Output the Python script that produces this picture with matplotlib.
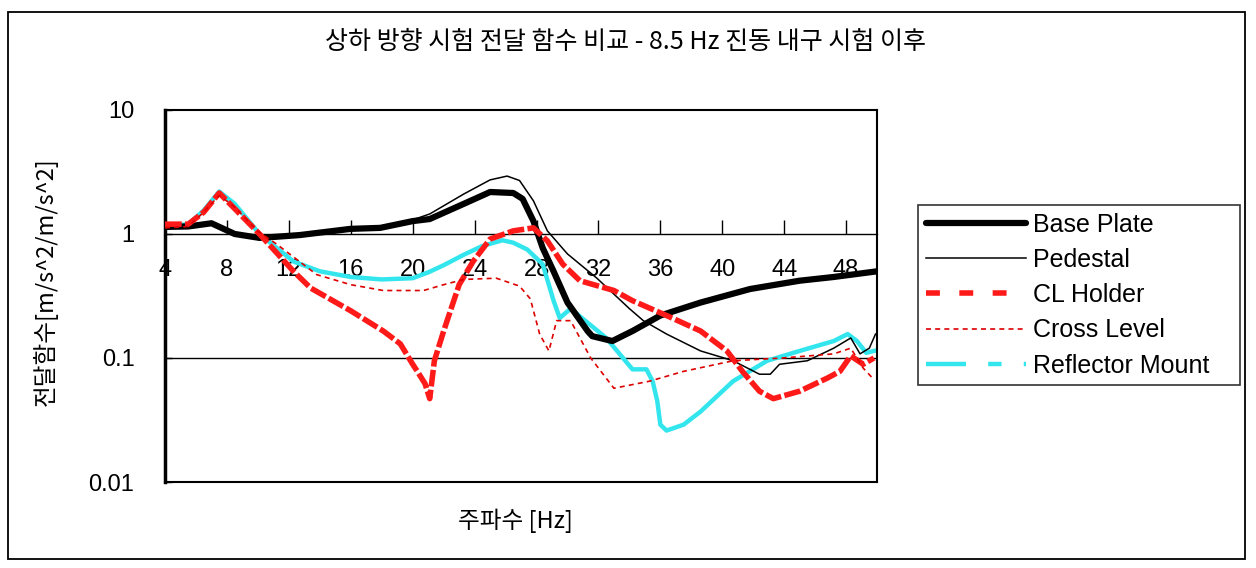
import numpy as np
import matplotlib
matplotlib.use('Agg')
import matplotlib.pyplot as plt
from matplotlib.lines import Line2D
from matplotlib.patches import Rectangle

plt.rcParams['font.family'] = ['Noto Sans CJK KR', 'DejaVu Sans']

title = '상하 방향 시험 전달 함수 비교 - 8.5 Hz 진동 내구 시험 이후'
xlabel = '주파수 [Hz]'
ylabel = '전달함수[m/s^2/m/s^2]'
xticks = [4, 8, 12, 16, 20, 24, 28, 32, 36, 40, 44, 48]
yticks = [0.01, 0.1, 1, 10]
ytick_labels = ['0.01', '0.1', '1', '10']

# Base Plate
bp_f = [4, 5.5, 7.0, 8.5, 10.1, 11.2, 12.7, 16.0, 17.9, 20.0, 21.1, 23.3, 25.0, 26.5, 27.1,
        27.8, 28.4, 29.1, 30.0, 31.3, 31.6, 32.9, 34.2, 36.0, 38.6, 41.8, 45.0, 47.2, 50.0]
bp_v = [1.14, 1.15, 1.22, 1.0, 0.93, 0.95, 0.98, 1.10, 1.12, 1.27, 1.32, 1.75, 2.18, 2.14, 1.92,
        1.27, 0.77, 0.50, 0.28, 0.165, 0.15, 0.137, 0.165, 0.22, 0.28, 0.36, 0.42, 0.45, 0.50]

# Pedestal
pd_f = [4, 5.5, 7.0, 8.5, 10.1, 11.2, 12.7, 16.0, 18.0, 20.0, 21.1, 23.3, 25.0, 26.1, 26.9,
        27.8, 28.7, 30.0, 31.9, 34.0, 34.9, 36.4, 38.6, 40.7, 42.4, 43.1, 43.7, 45.5, 47.2,
        48.3, 48.9, 49.5, 49.9]
pd_v = [1.12, 1.14, 1.2, 1.0, 0.94, 0.96, 0.99, 1.10, 1.14, 1.3, 1.45, 2.1, 2.73, 2.93, 2.7,
        1.85, 1.06, 0.69, 0.44, 0.25, 0.2, 0.156, 0.114, 0.095, 0.074, 0.074, 0.089, 0.095, 0.12,
        0.145, 0.108, 0.12, 0.156]

# CL Holder
cl_f = [4, 5.5, 6.5, 7.5, 8.5, 10.1, 12.3, 13.4, 16.0, 18.1, 19.2, 20.0, 20.3, 20.8, 21.1,
        21.4, 22.0, 23.0, 23.9, 25.0, 26.5, 27.8, 28.7, 29.7, 30.8, 33.0, 34.2, 36.4, 38.6,
        40.3, 41.3, 42.4, 43.3, 45.0, 46.8, 47.6, 48.3, 49.1, 49.8]
cl_v = [1.2, 1.2, 1.5, 2.14, 1.6, 1.0, 0.50, 0.367, 0.24, 0.165, 0.13, 0.089, 0.078, 0.062, 0.047,
        0.095, 0.165, 0.39, 0.6, 0.91, 1.06, 1.12, 0.88, 0.57, 0.42, 0.35, 0.29, 0.22, 0.165,
        0.114, 0.078, 0.054, 0.047, 0.054, 0.069, 0.078, 0.104, 0.089, 0.1]

# Cross Level
cr_f = [4, 5.5, 6.5, 7.5, 8.5, 10.0, 11.2, 13.8, 16.0, 18.1, 20.7, 22.0, 23.3, 25.4, 26.9,
        27.6, 28.2, 28.8, 29.3, 30.2, 31.5, 33.0, 35.3, 37.5, 40.7, 43.9, 47.2, 48.3, 49.1, 49.7]
cr_v = [1.12, 1.15, 1.5, 2.05, 1.65, 1.05, 0.83, 0.47, 0.39, 0.35, 0.35, 0.39, 0.43, 0.44, 0.38,
        0.30, 0.156, 0.114, 0.2, 0.2, 0.1, 0.057, 0.065, 0.078, 0.095, 0.1, 0.108, 0.12, 0.083, 0.069]

# Reflector Mount
rm_f = [4, 5.5, 6.5, 7.5, 8.5, 10.1, 12.3, 14.0, 16.0, 18.0, 20.0, 21.0, 22.0, 23.3, 24.5,
        25.8, 26.5, 27.4, 28.4, 29.1, 29.5, 30.2, 32.5, 34.2, 35.1, 35.5, 35.8, 36.0, 36.4,
        37.5, 38.6, 40.7, 42.9, 45.0, 47.2, 48.1, 48.7, 49.3, 49.8]
rm_v = [1.15, 1.2, 1.55, 2.2, 1.75, 1.0, 0.6, 0.5, 0.45, 0.43, 0.44, 0.49, 0.56, 0.68, 0.8,
        0.89, 0.85, 0.75, 0.57, 0.29, 0.21, 0.25, 0.145, 0.081, 0.081, 0.065, 0.045, 0.029, 0.026,
        0.029, 0.037, 0.065, 0.095, 0.114, 0.137, 0.156, 0.137, 0.11, 0.114]

fig = plt.figure(figsize=(12.56, 5.68), dpi=100)
fig.patches.append(Rectangle((0.0064, 0.0158), 0.985, 0.963, transform=fig.transFigure,
                             fill=False, edgecolor='black', linewidth=1.3))
ax = fig.add_axes([0.1314, 0.1514, 0.5669, 0.655])

ax.plot(bp_f, bp_v, color='black', linewidth=4.5, solid_capstyle='round', zorder=3)
ax.plot(pd_f, pd_v, color='black', linewidth=1.1, zorder=3)
ax.plot(cl_f, cl_v, color='#ff1a1a', linewidth=4, dashes=(3, 0.6), zorder=4)
ax.plot(cr_f, cr_v, color='#dd0000', linewidth=1.2, dashes=(3, 2.5), zorder=4)
ax.plot(rm_f, rm_v, color='#33e6ee', linewidth=3.2, zorder=2)

ax.set_yscale('log')
ax.set_xlim(4, 50)
ax.set_ylim(0.01, 10)
ax.set_yticks(yticks)
ax.set_yticklabels(ytick_labels)
ax.yaxis.set_minor_locator(matplotlib.ticker.NullLocator())
ax.set_xticks(xticks)
ax.set_xticklabels([str(t) for t in xticks])

ax.axhline(0.1, color='black', linewidth=1.0, zorder=1)
ax.spines['bottom'].set_position(('data', 1))
ax.spines['bottom'].set_linewidth(1.0)
ax.spines['left'].set_linewidth(2.5)
ax.spines['top'].set_linewidth(1.5)
ax.spines['right'].set_linewidth(1.5)
ax.plot([0, 1], [0, 0], transform=ax.transAxes, color='black', linewidth=1.5, clip_on=False)

ax.tick_params(axis='x', direction='in', length=10, width=1, pad=18, labelsize=17)
ax.tick_params(axis='y', direction='in', length=5, width=1, pad=22, labelsize=17)
for lab in ax.get_xticklabels() + ax.get_yticklabels():
    lab.set_family(['Liberation Sans', 'DejaVu Sans'])

fig.text(0.498, 0.926, title, ha='center', va='center', fontsize=18)
fig.text(0.41, 0.083, xlabel, ha='center', va='center', fontsize=17)
fig.text(0.036, 0.505, ylabel, ha='center', va='center', fontsize=17, rotation=90)

handles = [
    Line2D([], [], color='black', linewidth=4.5, solid_capstyle='round'),
    Line2D([], [], color='black', linewidth=1.1),
    Line2D([], [], color='#ff1a1a', linewidth=4, dashes=(2.5, 3.5)),
    Line2D([], [], color='#dd0000', linewidth=1.2, dashes=(3, 2.5)),
    Line2D([], [], color='#33e6ee', linewidth=3.2, dashes=(9, 5, 3, 5)),
]
labels = ['Base Plate', 'Pedestal', 'CL Holder', 'Cross Level', 'Reflector Mount']
leg = fig.legend(handles, labels, loc='upper left',
                 bbox_to_anchor=(0.731, 0.319, 0.256, 0.32), mode='expand',
                 fontsize=18, frameon=True, fancybox=False, edgecolor='black',
                 handlelength=4.0, handletextpad=0.3, labelspacing=0.45, borderpad=0.3,
                 borderaxespad=0)
leg.get_frame().set_linewidth(1.2)
for t in leg.get_texts():
    t.set_family(['Liberation Sans', 'DejaVu Sans'])

fig.savefig('out.png', dpi=100, facecolor='white')
